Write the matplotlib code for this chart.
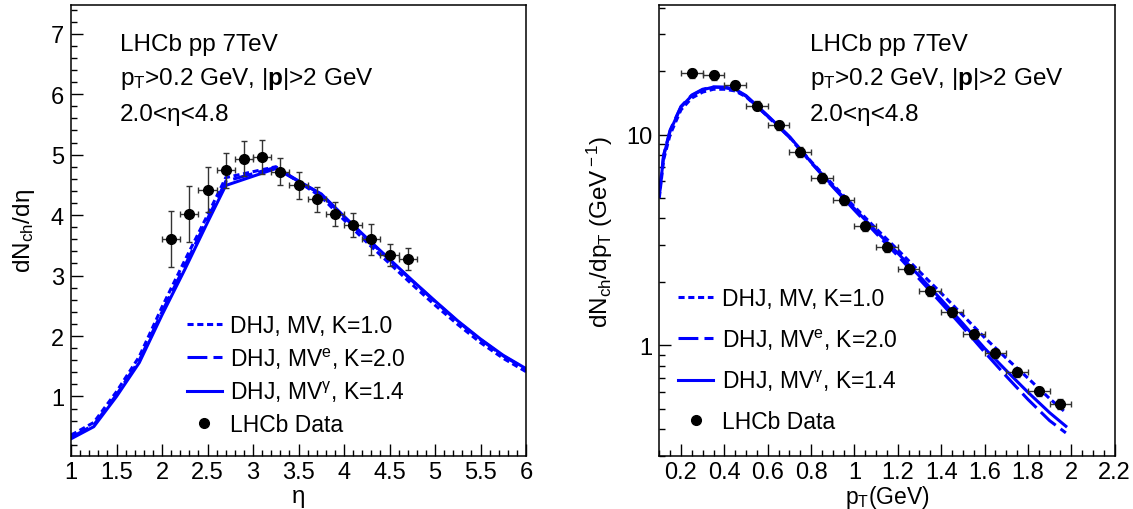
import numpy as np
import matplotlib
matplotlib.use("Agg")
import matplotlib.pyplot as plt
from matplotlib.lines import Line2D
from matplotlib.ticker import MultipleLocator, LogLocator, NullFormatter, FixedLocator, FixedFormatter, FuncFormatter

plt.rcParams['font.family'] = ['Liberation Sans', 'DejaVu Sans']
plt.rcParams['mathtext.fontset'] = 'custom'
plt.rcParams['mathtext.rm'] = 'Liberation Sans'
plt.rcParams['mathtext.it'] = 'Liberation Sans:italic'
plt.rcParams['mathtext.bf'] = 'Liberation Sans:bold'

# ---------------- Left panel data (dN/deta) ----------------
eta_data = [2.1, 2.3, 2.5, 2.7, 2.9, 3.1, 3.3, 3.5, 3.7, 3.9, 4.1, 4.3, 4.5, 4.7]
dndeta_data = [3.60, 4.02, 4.42, 4.74, 4.93, 4.96, 4.72, 4.49, 4.26, 4.02, 3.83, 3.60, 3.34, 3.28]
dndeta_err = [0.46, 0.46, 0.37, 0.29, 0.29, 0.28, 0.22, 0.22, 0.21, 0.20, 0.20, 0.26, 0.19, 0.18]
eta_xerr = [0.1] * 14

eta_curve = [1.0, 1.25, 1.5, 1.75, 2.0, 2.25, 2.5, 2.7, 3.25, 3.75, 4.0, 4.25, 4.5, 4.75, 5.0, 5.25, 5.5, 5.75, 6.0]
mv_k10 = [0.36, 0.57, 1.08, 1.66, 2.48, 3.25, 4.00, 4.62, 4.80, 4.30, 3.92, 3.55, 3.20, 2.85, 2.51, 2.19, 1.89, 1.63, 1.41]
mve_k20 = [0.32, 0.53, 1.03, 1.60, 2.40, 3.16, 3.94, 4.56, 4.79, 4.34, 3.97, 3.61, 3.26, 2.91, 2.57, 2.24, 1.94, 1.67, 1.45]
mvg_k14 = [0.30, 0.50, 1.00, 1.56, 2.35, 3.10, 3.88, 4.49, 4.77, 4.35, 3.98, 3.62, 3.27, 2.92, 2.58, 2.25, 1.95, 1.68, 1.46]

# ---------------- Right panel data (dN/dpT) ----------------
pt_data = [0.25, 0.35, 0.45, 0.55, 0.65, 0.75, 0.85, 0.95, 1.05, 1.15, 1.25, 1.35, 1.45, 1.55, 1.65, 1.75, 1.85, 1.95]
dndpt_data = [19.5, 19.1, 17.1, 13.7, 11.07, 8.28, 6.23, 4.88, 3.67, 2.92, 2.30, 1.81, 1.44, 1.13, 0.92, 0.748, 0.608, 0.528]
dndpt_relerr = [0.05] * 18
pt_xerr = [0.05] * 18

pt_curve = [0.10, 0.12, 0.15, 0.20, 0.25, 0.30, 0.35, 0.40, 0.45, 0.50, 0.60, 0.70, 0.80, 0.90,
            1.00, 1.10, 1.20, 1.30, 1.40, 1.50, 1.60, 1.70, 1.80, 1.90, 1.975]
pt_mv_k10 = [5.0, 7.6, 10.0, 13.1, 14.9, 15.9, 16.4, 16.4, 16.1, 15.1, 12.2, 9.75, 7.45, 5.8,
             4.55, 3.58, 2.84, 2.24, 1.77, 1.39, 1.09, 0.87, 0.70, 0.56, 0.48]
pt_mve_k20 = [5.2, 8.0, 10.5, 13.6, 15.4, 16.4, 16.8, 16.7, 16.3, 15.2, 12.2, 9.7, 7.35, 5.65,
              4.38, 3.40, 2.66, 2.06, 1.59, 1.22, 0.93, 0.715, 0.555, 0.44, 0.385]
pt_mvg_k14 = [5.15, 7.9, 10.4, 13.5, 15.3, 16.3, 16.8, 16.8, 16.4, 15.3, 12.3, 9.8, 7.4, 5.7,
              4.45, 3.48, 2.74, 2.13, 1.65, 1.27, 0.97, 0.76, 0.60, 0.48, 0.414]

labels = ['DHJ, MV, K=1.0', 'DHJ, MV$^{\\rm e}$, K=2.0', 'DHJ, MV$^{\\rm γ}$, K=1.4', 'LHCb Data']

FS_TEXT = 17.5
FS_TICK = 17
FS_LEG = 16.5
FS_LAB = 17.5
BLUE = (0, 0, 1)
LW = 2.2

fig = plt.figure(figsize=(11.33, 5.10), dpi=100)
axL = fig.add_axes([0.0627, 0.1045, 0.4016, 0.8831])
axR = fig.add_axes([0.5819, 0.1045, 0.4019, 0.8831])


def style_axes(ax):
    for s in ax.spines.values():
        s.set_linewidth(1.1)
        s.set_color('black')
    ax.tick_params(which='both', direction='in', top=False, right=False, labelsize=FS_TICK, width=1.0, pad=5)
    ax.tick_params(axis='x', which='both', pad=4)
    ax.tick_params(which='major', length=8.6)
    ax.tick_params(which='minor', length=4.3)


def draw_curves(ax, x, c1, c2, c3):
    h1, = ax.plot(x, c1, color=BLUE, lw=LW, linestyle=(0, (2.0, 1.2)))
    h2, = ax.plot(x, c2, color=BLUE, lw=LW, linestyle=(0, (6.5, 2.0)))
    h3, = ax.plot(x, c3, color=BLUE, lw=LW, linestyle='-')
    return h1, h2, h3


def add_text(ax, x0):
    ax.text(x0, 0.914, 'LHCb pp 7TeV', transform=ax.transAxes, fontsize=FS_TEXT, va='center', ha='left')
    ax.text(x0, 0.838, 'p$_{\\rm T}$>0.2 GeV, |$\\mathbf{p}$|>2 GeV', transform=ax.transAxes,
            fontsize=FS_TEXT, va='center', ha='left')
    ax.text(x0, 0.758, '2.0<η<4.8', transform=ax.transAxes, fontsize=FS_TEXT, va='center', ha='left')


data_handle = Line2D([], [], color='black', marker='o', linestyle='none', markersize=7)

# ---- Left ----
h1, h2, h3 = draw_curves(axL, eta_curve, mv_k10, mve_k20, mvg_k14)
axL.errorbar(eta_data, dndeta_data, yerr=dndeta_err, xerr=eta_xerr, fmt='o', color='black',
             ecolor='#333333', elinewidth=1.0, capsize=2, markersize=7, zorder=5)
axL.set_xlim(1, 6)
axL.set_ylim(0.02, 7.47)
axL.xaxis.set_major_locator(MultipleLocator(0.5))
axL.xaxis.set_minor_locator(MultipleLocator(0.1))
axL.yaxis.set_major_locator(FixedLocator([1, 2, 3, 4, 5, 6, 7]))
axL.yaxis.set_minor_locator(MultipleLocator(0.2))
axL.xaxis.set_major_formatter(FuncFormatter(lambda v, p: ('%g' % v)))
style_axes(axL)
axL.set_xlabel('η', fontsize=FS_LAB, labelpad=1)
axL.set_ylabel('dN$_{\\rm ch}$/dη', fontsize=FS_LAB, labelpad=10)
add_text(axL, 0.108)
axL.legend([h1, h2, h3, data_handle], labels, loc='upper left', bbox_to_anchor=(0.254, 0.315),
           frameon=False, fontsize=FS_LEG, handlelength=1.53, handletextpad=0.36, labelspacing=0.37,
           borderpad=0, borderaxespad=0)

# ---- Right ----
g1, g2, g3 = draw_curves(axR, pt_curve, pt_mv_k10, pt_mve_k20, pt_mvg_k14)
yerr_r = [v * e for v, e in zip(dndpt_data, dndpt_relerr)]
axR.errorbar(pt_data, dndpt_data, yerr=yerr_r, xerr=pt_xerr, fmt='o', color='black',
             ecolor='#333333', elinewidth=1.0, capsize=2, markersize=7, zorder=5)
axR.set_yscale('log')
axR.set_xlim(0.1, 2.2)
axR.set_ylim(0.3, 41)
axR.xaxis.set_major_locator(MultipleLocator(0.2))
axR.xaxis.set_minor_locator(MultipleLocator(0.05))
axR.xaxis.set_major_formatter(FuncFormatter(lambda v, p: ('%g' % round(v, 2))))
axR.yaxis.set_major_locator(FixedLocator([1, 10]))
axR.yaxis.set_major_formatter(FixedFormatter(['1', '10']))
axR.yaxis.set_minor_locator(LogLocator(base=10, subs=np.arange(2, 10) * 1.0))
axR.yaxis.set_minor_formatter(NullFormatter())
style_axes(axR)
axR.set_xlabel('p$_{\\rm T}$(GeV)', fontsize=16.5, labelpad=0)
axR.set_ylabel('dN$_{\\rm ch}$/dp$_{\\rm T}$ (GeV$^{\\rm -1}$)', fontsize=FS_LAB, labelpad=8)
add_text(axR, 0.331)
axR.legend([g1, g2, g3, data_handle], labels, loc='upper left', bbox_to_anchor=(0.042, 0.375),
           frameon=False, fontsize=FS_LEG, handlelength=1.53, handletextpad=0.36, labelspacing=0.72,
           borderpad=0, borderaxespad=0)

fig.savefig('out.png', dpi=100)
